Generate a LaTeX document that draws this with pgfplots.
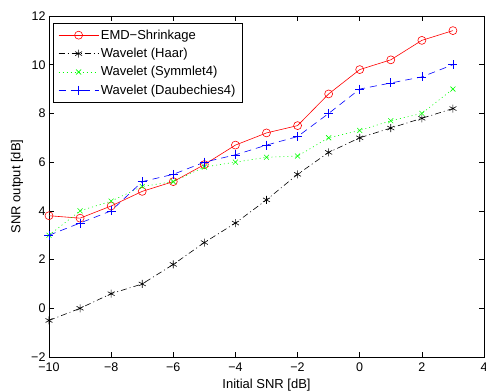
\documentclass[border=0pt]{standalone}
\usepackage{fontspec}
\setmainfont{Liberation Sans}
\usepackage{pgfplots}
\pgfplotsset{compat=1.18}
\definecolor{mred}{RGB}{255,0,0}
\definecolor{mgreen}{RGB}{0,255,0}
\definecolor{mblue}{RGB}{0,0,255}
\begin{document}
\begin{tikzpicture}
\begin{axis}[
  scale only axis,
  width=435pt, height=341pt,
  xmin=-10, xmax=4, ymin=-2, ymax=12,
  xtick={-10,-8,...,4}, ytick={-2,0,...,12},
  xticklabels={−10,−8,−6,−4,−2,0,2,4},
  yticklabels={−2,0,2,4,6,8,10,12},
  tick align=inside, tick pos=both,
  major tick length=5pt,
  axis line style={line width=0.8pt},
  every tick/.style={black, line width=0.6pt},
  font=\fontsize{13}{15}\selectfont,
  tick label style={font=\fontsize{12.5}{15}\selectfont},
  xticklabel style={yshift=-2pt},
  yticklabel style={xshift=0pt},
  xlabel={Initial SNR [dB]}, ylabel={SNR output [dB]},
  xlabel style={at={(axis description cs:0.5,-0.082)}, anchor=center, inner sep=0pt},
  ylabel style={at={(axis description cs:-0.0736,0.5)}, anchor=center, inner sep=0pt},
  legend cell align=left,
  legend style={draw=black, line width=0.8pt, inner xsep=5pt, inner ysep=4.5pt, row sep=3.5pt,
    font=\fontsize{13}{15}\selectfont, at={(0.0092,0.98)}, anchor=north west},
  legend image code/.code={\draw[mark repeat=2,mark phase=2,#1] plot coordinates {(0cm,0cm) (0.7cm,0cm) (1.4cm,0cm)};},
]
\addplot[mred, line width=0.6pt, mark=o, mark size=4pt, mark options={solid}] coordinates {
(-10,3.8) (-9,3.7) (-8,4.2) (-7,4.8) (-6,5.2) (-5,5.9) (-4,6.7) (-3,7.2) (-2,7.5) (-1,8.8) (0,9.8) (1,10.2) (2,11.0) (3,11.4)};
\addlegendentry{EMD−Shrinkage}
\addplot[black, line width=0.6pt, dash pattern=on 6pt off 3pt on 1pt off 3pt, mark=asterisk, mark size=4pt, mark options={solid}] coordinates {
(-10,-0.5) (-9,0) (-8,0.6) (-7,1.0) (-6,1.8) (-5,2.7) (-4,3.5) (-3,4.45) (-2,5.5) (-1,6.4) (0,7.0) (1,7.4) (2,7.8) (3,8.2)};
\addlegendentry{Wavelet (Haar)}
\addplot[mgreen, line width=0.6pt, dash pattern=on 1pt off 3pt, mark=x, mark size=3.5pt, mark options={solid}] coordinates {
(-10,3.0) (-9,4.0) (-8,4.4) (-7,5.0) (-6,5.2) (-5,5.8) (-4,6.0) (-3,6.2) (-2,6.25) (-1,7.0) (0,7.3) (1,7.7) (2,8.0) (3,9.0)};
\addlegendentry{Wavelet (Symmlet4)}
\addplot[mblue, line width=0.6pt, dash pattern=on 7pt off 5pt, mark=+, mark size=4.5pt, mark options={solid}] coordinates {
(-10,3.0) (-9,3.5) (-8,4.0) (-7,5.2) (-6,5.5) (-5,6.0) (-4,6.3) (-3,6.7) (-2,7.05) (-1,8.0) (0,9.0) (1,9.25) (2,9.5) (3,10.0)};
\addlegendentry{Wavelet (Daubechies4)}
\end{axis}
\pgfresetboundingbox
\useasboundingbox ([xshift=-49pt,yshift=-34pt]current axis.south west) rectangle ([xshift=2pt,yshift=16pt]current axis.north east);
\end{tikzpicture}
\end{document}
